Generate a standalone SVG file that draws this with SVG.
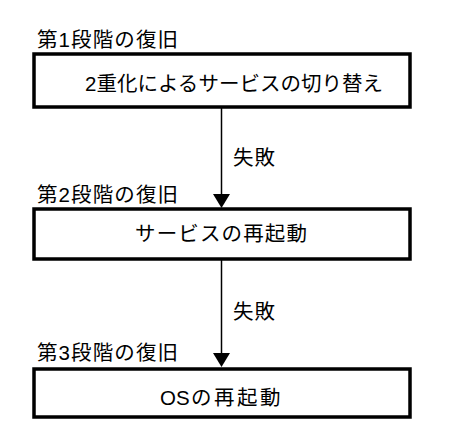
<svg xmlns="http://www.w3.org/2000/svg" width="450" height="443" viewBox="0 0 450 443">
<style>
.box{fill:#fff;stroke:#000;stroke-width:3.5}
.t{font-family:"Liberation Sans","Noto Sans CJK JP",sans-serif;fill:#000;font-size:20.5px}
.edge{stroke:#000;stroke-width:1.5;fill:none}
</style>
<rect width="450" height="443" fill="#fff"/>
<g id="stage1">
<text class="t" x="37" y="47" textLength="141" lengthAdjust="spacing">第1段階の復旧</text>
<rect class="box" x="34" y="54" width="376" height="53"/>
<text class="t" x="85" y="91" textLength="298" lengthAdjust="spacing">2重化によるサービスの切り替え</text>
</g>
<g id="stage2">
<text class="t" x="37" y="202" textLength="141" lengthAdjust="spacing">第2段階の復旧</text>
<rect class="box" x="34" y="209" width="376" height="50"/>
<text class="t" x="135" y="241" textLength="172" lengthAdjust="spacing">サービスの再起動</text>
</g>
<g id="stage3">
<text class="t" x="37" y="360" textLength="141" lengthAdjust="spacing">第3段階の復旧</text>
<rect class="box" x="34" y="369" width="376" height="48"/>
<text class="t" x="160" y="405">OS<tspan x="191" letter-spacing="2.5">の再起動</tspan></text>
</g>
<g id="connectors">
<line class="edge" x1="221.5" y1="107" x2="221.5" y2="195"/>
<polygon points="213,194 230,194 221.5,208" fill="#000"/>
<text class="t" x="233" y="165" textLength="42" lengthAdjust="spacing">失敗</text>
<line class="edge" x1="221.5" y1="259" x2="221.5" y2="354"/>
<polygon points="213,353 230,353 221.5,367" fill="#000"/>
<text class="t" x="233" y="319" textLength="42" lengthAdjust="spacing">失敗</text>
</g>
</svg>
